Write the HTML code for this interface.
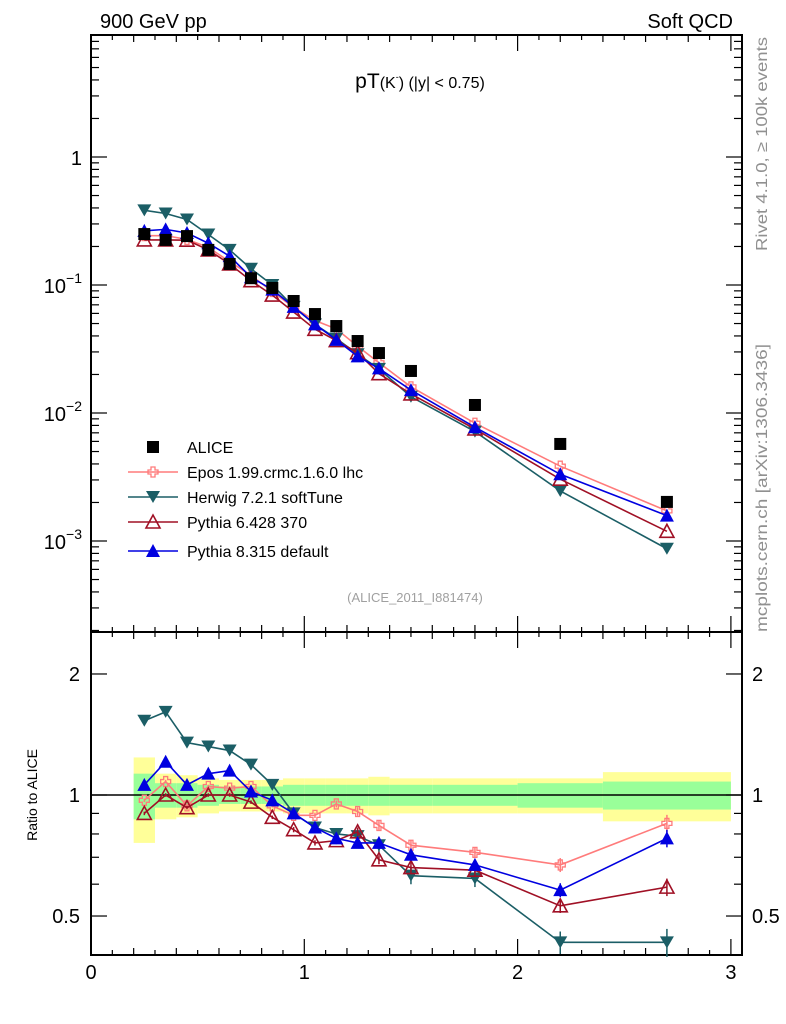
<!DOCTYPE html>
<html><head><meta charset="utf-8"><style>
html,body{margin:0;padding:0;background:#fff}
svg{display:block;font-family:"Liberation Sans",sans-serif}
</style></head><body>
<svg id="c" width="786" height="1024" viewBox="0 0 786 1024" xmlns="http://www.w3.org/2000/svg">
<text x="100" y="28" font-size="20">900 GeV pp</text>
<text x="733" y="28" font-size="20" text-anchor="end">Soft QCD</text>
<text x="420" y="88" font-size="21" text-anchor="middle">pT<tspan font-size="16">(K</tspan><tspan font-size="9" dy="-8">-</tspan><tspan font-size="16" dy="8">) (|y| &lt; 0.75)</tspan></text>
<text x="415" y="602" font-size="13" fill="#a0a0a0" text-anchor="middle">(ALICE_2011_I881474)</text>
<text transform="translate(767,251) rotate(-90)" font-size="16" fill="#909090" textLength="214" lengthAdjust="spacingAndGlyphs">Rivet 4.1.0, ≥ 100k events</text>
<text transform="translate(767,632) rotate(-90)" font-size="16" fill="#909090" textLength="288" lengthAdjust="spacingAndGlyphs">mcplots.cern.ch [arXiv:1306.3436]</text>
<text transform="translate(37,795) rotate(-90)" font-size="14" text-anchor="middle">Ratio to ALICE</text>
<g id="bands"></g><g id="axes"></g><g id="series"></g><g id="legend"></g>
</svg>
<script>
const xs=[0.25,0.35,0.45,0.55,0.65,0.75,0.85,0.95,1.05,1.15,1.25,1.35,1.5,1.8,2.2,2.7];
const edges=[0.2,0.3,0.4,0.5,0.6,0.7,0.8,0.9,1.0,1.1,1.2,1.3,1.4,1.6,2.0,2.4,3.0];
const alice=[0.250,0.225,0.241,0.188,0.146,0.113,0.0948,0.075,0.0593,0.0478,0.0365,0.0294,0.0213,0.01155,0.00573,0.00202];
const totErr=[0.24,0.13,0.12,0.10,0.09,0.09,0.09,0.10,0.10,0.10,0.10,0.11,0.10,0.10,0.10,0.14];
const statErr=[0.13,0.07,0.07,0.06,0.05,0.05,0.05,0.06,0.06,0.06,0.06,0.06,0.06,0.06,0.07,0.08];
const eposMain=[0.243,0.243,0.227,0.197,0.152,0.119,0.089,0.0668,0.0528,0.0454,0.0332,0.0247,0.0160,0.00832,0.00384,0.00172];
const herwigMain=[0.383,0.362,0.325,0.248,0.188,0.134,0.100,0.0675,0.0492,0.0382,0.0288,0.0221,0.0134,0.00716,0.00246,0.00087];
const py6Main=[0.225,0.225,0.224,0.188,0.146,0.108,0.0834,0.0615,0.0451,0.0368,0.0296,0.0203,0.0141,0.0075,0.00304,0.00119];
const py8Main=[0.265,0.272,0.255,0.212,0.168,0.115,0.092,0.0675,0.0492,0.0373,0.0277,0.0223,0.0151,0.00774,0.00332,0.00158];
const eposRatio=[0.97,1.08,0.94,1.05,1.04,1.05,0.94,0.89,0.89,0.95,0.91,0.84,0.75,0.72,0.67,0.85];
const herwigRatio=[1.53,1.61,1.35,1.32,1.29,1.19,1.06,0.90,0.83,0.80,0.79,0.75,0.63,0.62,0.43,0.43];
const py6Ratio=[0.90,1.0,0.93,1.0,1.0,0.96,0.88,0.82,0.76,0.77,0.81,0.69,0.66,0.65,0.53,0.59];
const py8Ratio=[1.06,1.21,1.06,1.13,1.15,1.02,0.97,0.90,0.83,0.78,0.76,0.76,0.71,0.67,0.58,0.78];
const ratioErr=[0.01,0.01,0.01,0.01,0.01,0.01,0.01,0.015,0.015,0.02,0.025,0.025,0.03,0.03,0.04,0.05];
const xTicks=[0,1,2,3];

const NS="http://www.w3.org/2000/svg";
const L=91,R=742,T=35,M=632,B=955;
const X=v=>L+v*213.3;
const Y=v=>157-Math.log10(v)*128;
const YR=v=>795-Math.log10(v)*402;
function mk(tag,attrs,parent,txt){const e=document.createElementNS(NS,tag);for(const k in attrs)e.setAttribute(k,attrs[k]);if(txt!==undefined)e.textContent=txt;parent.appendChild(e);return e;}
const gb=document.getElementById('bands'),ga=document.getElementById('axes'),gs=document.getElementById('series'),gl=document.getElementById('legend');

for(let i=0;i<xs.length;i++){
  const x0=X(edges[i]),x1=X(edges[i+1]);
  const y=mk('rect',{x:x0,y:YR(1+totErr[i]),width:x1-x0,height:YR(1-totErr[i])-YR(1+totErr[i]),fill:'#ffff99'},gb);
  
  
  const g=mk('rect',{x:x0,y:YR(1+statErr[i]),width:x1-x0,height:YR(1-statErr[i])-YR(1+statErr[i]),fill:'#99ff99'},gb);
  
  
}
const one=mk('line',{x1:L,x2:R,y1:YR(1),y2:YR(1),stroke:'#000','stroke-width':1.5},gb);



for(const [y0,y1,n] of [[T,M,'main-frame'],[M,B,'ratio-frame']]){
  const f=mk('rect',{x:L,y:y0,width:R-L,height:y1-y0,fill:'none',stroke:'#000','stroke-width':2},ga);
  
  
}
for(let k=0;k<=30;k++){
  const v=k/10,x=X(v);if(x>R)break;
  const len=k%10===0?16:(k%2===0?7:5);
  for(const [yy,d] of [[M,-1],[T,1],[B,-1],[M,1]]){
    mk('line',{x1:x,x2:x,y1:yy,y2:yy+d*len,stroke:'#000','stroke-width':1.2},ga);
  }
}
xTicks.forEach(v=>{const t=mk('text',{x:X(v),y:979,'font-size':20,'text-anchor':'middle'},ga,String(v));

});
for(let d=-4;d<=0;d++){for(let m=1;m<=9;m++){const v=m*Math.pow(10,d),y=Y(v);if(y<T||y>M)continue;
 const len=m===1?16:8;
 mk('line',{x1:L,x2:L+len,y1:y,y2:y,stroke:'#000','stroke-width':1.2},ga);
 mk('line',{x1:R,x2:R-len,y1:y,y2:y,stroke:'#000','stroke-width':1.2},ga);}}
const ylabs=[[1,'1',''],[0.1,'10','−1'],[0.01,'10','−2'],[0.001,'10','−3']];
ylabs.forEach(([v,b,e])=>{const t=mk('text',{x:82,y:Y(v)+8,'font-size':20,'text-anchor':'end'},ga);
 
 
 mk('tspan',{},t,b);if(e)mk('tspan',{'font-size':14,dy:-10},t,e);});
[0.4,0.5,0.6,0.7,0.8,0.9,1,2].forEach(v=>{const y=YR(v),len=(v===1||v===2||v===0.5)?16:8;
 mk('line',{x1:L,x2:L+len,y1:y,y2:y,stroke:'#000','stroke-width':1.2},ga);
 mk('line',{x1:R,x2:R-len,y1:y,y2:y,stroke:'#000','stroke-width':1.2},ga);});
[[2,'2'],[1,'1'],[0.5,'0.5']].forEach(([v,s])=>{
 const t=mk('text',{x:80,y:YR(v)+7,'font-size':20,'text-anchor':'end'},ga,s);
 
 
 const t2=mk('text',{x:752,y:YR(v)+7,'font-size':20},ga,s);
 
 });

function marker(type,x,y,color,g){
  if(type==='square')return mk('rect',{x:x-6,y:y-6,width:12,height:12,fill:'#000'},g);
  if(type==='down')return mk('polygon',{points:`${x-7},${y-6} ${x+7},${y-6} ${x},${y+6}`,fill:color},g);
  if(type==='up')return mk('polygon',{points:`${x-7},${y+6} ${x+7},${y+6} ${x},${y-7}`,fill:color},g);
  if(type==='upo')return mk('polygon',{points:`${x-7},${y+6} ${x+7},${y+6} ${x},${y-7}`,fill:'none',stroke:color,'stroke-width':1.6},g);
  if(type==='cross')return mk('path',{d:`M${x-2},${y-5}h4v3h3v4h-3v3h-4v-3h-3v-4h3z`,fill:'none',stroke:color,'stroke-width':1.3},g);
}
const series=[
 {n:'epos',c:'#ff7b7b',m:'cross',main:eposMain,rat:eposRatio,lab:'Epos 1.99.crmc.1.6.0 lhc'},
 {n:'herwig',c:'#1b5e66',m:'down',main:herwigMain,rat:herwigRatio,lab:'Herwig 7.2.1 softTune'},
 {n:'pythia6',c:'#a01025',m:'upo',main:py6Main,rat:py6Ratio,lab:'Pythia 6.428 370'},
 {n:'pythia8',c:'#0000e0',m:'up',main:py8Main,rat:py8Ratio,lab:'Pythia 8.315 default'}];
series.forEach(s=>{
  const g=mk('g',{},gs);
  
  
  const line=mk('polyline',{points:xs.map((x,i)=>X(x)+','+Y(s.main[i])).join(' '),fill:'none',stroke:s.c,'stroke-width':1.6},g);
  
  
  const rl=mk('polyline',{points:xs.map((x,i)=>X(x)+','+YR(s.rat[i])).join(' '),fill:'none',stroke:s.c,'stroke-width':1.6},g);
  
  
  xs.forEach((x,i)=>{
    const p=marker(s.m,X(x),Y(s.main[i]),s.c,g);
    
    
    const e=ratioErr[i]*(s.n==='herwig'?1.6:1);
    mk('line',{x1:X(x),x2:X(x),y1:YR(s.rat[i]*(1+e)),y2:YR(s.rat[i]*(1-e)),stroke:s.c,'stroke-width':1.5},g);
    const q=marker(s.m,X(x),YR(s.rat[i]),s.c,g);
    
    
  });
});
xs.forEach((x,i)=>{const p=marker('square',X(x),Y(alice[i]),'#000',gs);
 
 });
const ly=[447,472,497,522,551];
const a=marker('square',153,ly[0],'#000',gl);


const at=mk('text',{x:187,y:ly[0]+6,'font-size':16},gl,'ALICE');


series.forEach((s,i)=>{const y=ly[i+1];
 mk('line',{x1:128,x2:178,y1:y,y2:y,stroke:s.c,'stroke-width':1.6},gl);
 marker(s.m,153,y,s.c,gl);
 const t=mk('text',{x:187,y:y+6,'font-size':16},gl,s.lab);
 
 });
</script>
</body></html>
